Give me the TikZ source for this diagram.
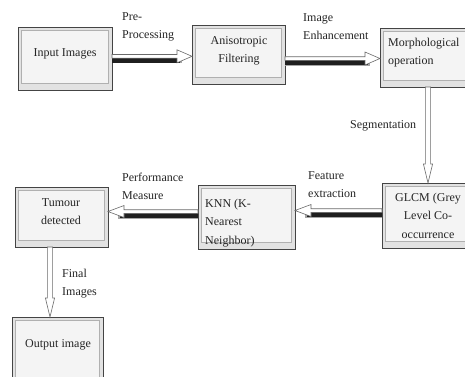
\documentclass[tikz,border=0pt]{standalone}
\usepackage{fontspec}
\setmainfont{Liberation Serif}
\usetikzlibrary{calc}

\definecolor{inkgray}{HTML}{242424}
\definecolor{framegray}{HTML}{444444}
\definecolor{facegray}{HTML}{E2E2E2}
\definecolor{innergray}{HTML}{F4F4F4}
\definecolor{rimgray}{HTML}{B0B0B0}
\definecolor{arrowline}{HTML}{6A6A6A}

% stacked lines; first line's baseline is the node's base
\newcommand\stack[2][l]{\begin{tabular}[t]{@{}#1@{}}#2\end{tabular}}

% hollow arrow pointing right, with a dark band under the shaft
\newcommand\eastarrow[2]{%
  \fill[black!35] ($(#1)+(0,1.2)$) rectangle ($(#2)+(-10,7.0)$);
  \fill[shadowband] ($(#1)+(0,1.6)$) rectangle ($(#2)+(-12,6.2)$);
  \draw[hollow] ($(#1)+(0,-1.8)$) -- ($(#2)+(-15,-1.8)$) -- ($(#2)+(-15,-6.5)$) -- (#2)
    -- ($(#2)+(-15,6.5)$) -- ($(#2)+(-15,1.8)$) -- ($(#1)+(0,1.8)$) -- cycle;}
% the same, pointing left
\newcommand\westarrow[2]{%
  \fill[black!35] ($(#1)+(0,1.2)$) rectangle ($(#2)+(10,7.0)$);
  \fill[shadowband] ($(#1)+(0,1.6)$) rectangle ($(#2)+(12,6.2)$);
  \draw[hollow] ($(#1)+(0,-1.8)$) -- ($(#2)+(16,-1.8)$) -- ($(#2)+(16,-6.0)$) -- (#2)
    -- ($(#2)+(16,6.0)$) -- ($(#2)+(16,1.8)$) -- ($(#1)+(0,1.8)$) -- cycle;}
% hollow arrow pointing down
\newcommand\southarrow[2]{%
  \draw[hollow] ($(#1)+(-2.6,0)$) -- ($(#2)+(-2.6,-19)$) -- ($(#2)+(-4.6,-19)$) -- (#2)
    -- ($(#2)+(4.6,-19)$) -- ($(#2)+(2.6,-19)$) -- ($(#1)+(2.6,0)$) -- cycle;}

\tikzset{
  box/.style={draw=framegray, line width=1pt, fill=facegray, inner sep=0pt, outer sep=0pt,
    path picture={\draw[rimgray, fill=innergray, line width=0.5pt]
      ([shift={(3.5pt,-3.5pt)}]path picture bounding box.north west) rectangle
      ([shift={(-3.5pt,6.5pt)}]path picture bounding box.south east);}},
  txt/.style={font=\fontsize{12}{18.5}\selectfont, text=inkgray, inner sep=0pt, anchor=base},
  lbl/.style={txt, anchor=base west},
  hollow/.style={draw=arrowline, fill=white, line width=0.6pt, line join=miter},
  shadowband/.style={fill=black!88},
}

\begin{document}
\begin{tikzpicture}[x=1pt, y=-1pt]
  \useasboundingbox (0,0) rectangle (465,376);
  \fill[white] (0,0) rectangle (465,376);
  \clip (0,0) rectangle (465,376);

  % process boxes
  \node[box, minimum width=94pt, minimum height=63pt] (inp)    at (65,58.5)   {};
  \node[box, minimum width=93pt, minimum height=59pt] (aniso)  at (238.5,54.5) {};
  \node[box, minimum width=92pt, minimum height=59pt] (morph)  at (426,57.5)  {};
  \node[box, minimum width=90pt, minimum height=65pt] (glcm)   at (427,215.5) {};
  \node[box, minimum width=97pt, minimum height=64pt] (knn)    at (246.5,217) {};
  \node[box, minimum width=93pt, minimum height=60pt] (tumour) at (61.5,217)  {};
  \node[box, minimum width=91pt, minimum height=68pt] (output) at (57.5,351)  {};

  % box captions
  \node[txt] (inpT) at (65,56) {Input Images};
  \node[txt] (anisoT) at (239,44) {\stack[c]{Anisotropic\\Filtering}};
  \node[lbl] (morphT) at (388,46) {\stack{Morphological\\operation}};
  \node[txt] (glcmT) at (428,201) {\stack[c]{GLCM (Grey\\Level Co-\\occurrence}};
  \node[lbl] (knnT) at (205,207) {\stack{KNN (K-\\Nearest\\Neighbor)}};
  \node[txt] (tumourT) at (61,206) {\stack[c]{Tumour\\detected}};
  \node[txt] (outputT) at (58,347) {Output image};

  % connector end points
  \coordinate (a1) at ([yshift=2.2pt]inp.east);     \coordinate (a2) at (a1 -| aniso.west);
  \coordinate (b1) at ([yshift=-4pt]aniso.east);    \coordinate (b2) at (b1 -| morph.west);
  \coordinate (c1) at ([xshift=2pt]morph.south);    \coordinate (c2) at (c1 |- glcm.north);
  \coordinate (d1) at ([yshift=5pt]glcm.west);      \coordinate (d2) at (d1 -| knn.east);
  \coordinate (e1) at ([yshift=5.5pt]knn.west);     \coordinate (e2) at (e1 -| tumour.east);
  \coordinate (f1) at ([xshift=-11.5pt]tumour.south); \coordinate (f2) at (f1 |- output.north);

  % connectors
  \eastarrow{a1}{a2}
  \eastarrow{b1}{b2}
  \southarrow{c1}{c2}
  \westarrow{d1}{d2}
  \westarrow{e1}{e2}
  \southarrow{f1}{f2}

  % connector labels
  \node[lbl] (preL)  at (122,20)  {\stack{Pre-\\Processing}};
  \node[lbl] (enhL)  at (303,21)  {\stack{Image\\Enhancement}};
  \node[lbl] (segL)  at (350,128) {Segmentation};
  \node[lbl] (featL) at (308,179) {\stack{Feature\\extraction}};
  \node[lbl] (perfL) at (122,181) {\stack{Performance\\Measure}};
  \node[lbl] (finL)  at (62,277)  {\stack{Final\\Images}};
\end{tikzpicture}
\end{document}
